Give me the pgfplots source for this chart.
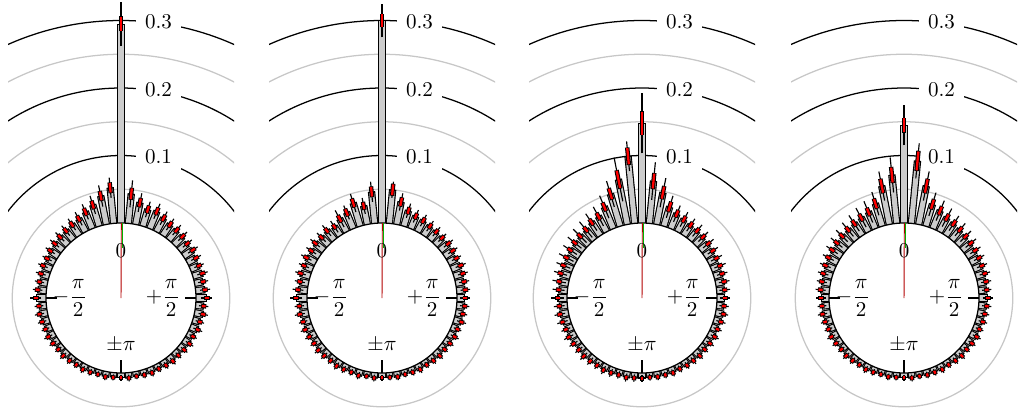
\documentclass[border=0pt]{standalone}
\usepackage{pgfplots}
\usepackage{pgfplotstable}
\pgfplotsset{compat=1.18}

% k = bin index (bin centre at k*5.625 deg, clockwise from top), v = value, b = box half-width, w = whisker half-width
\pgfplotstableread{
k v b w
-31 0.007 0.0022 0.0045
-30 0.008 0.0024 0.0050
-29 0.007 0.0022 0.0045
-28 0.008 0.0024 0.0050
-27 0.009 0.0025 0.0055
-26 0.008 0.0024 0.0050
-25 0.009 0.0025 0.0055
-24 0.010 0.0026 0.0060
-23 0.009 0.0025 0.0055
-22 0.010 0.0026 0.0060
-21 0.011 0.0027 0.0065
-20 0.010 0.0026 0.0060
-19 0.011 0.0027 0.0065
-18 0.012 0.0028 0.0070
-17 0.011 0.0027 0.0065
-16 0.015 0.0032 0.0080
-15 0.013 0.0030 0.0070
-14 0.012 0.0028 0.0070
-13 0.013 0.0030 0.0075
-12 0.014 0.0030 0.0075
-11 0.013 0.0030 0.0075
-10 0.015 0.0032 0.0080
-9 0.016 0.0033 0.0085
-8 0.017 0.0035 0.0090
-7 0.018 0.0036 0.0095
-6 0.020 0.0040 0.0100
-5 0.022 0.0042 0.0110
-4 0.027 0.0050 0.0120
-3 0.033 0.0055 0.0140
-2 0.043 0.0065 0.0160
-1 0.053 0.0070 0.0150
0 0.295 0.0100 0.0330
1 0.044 0.0080 0.0200
2 0.033 0.0060 0.0140
3 0.026 0.0050 0.0120
4 0.028 0.0050 0.0120
5 0.023 0.0045 0.0110
6 0.020 0.0040 0.0100
7 0.019 0.0038 0.0095
8 0.018 0.0036 0.0090
9 0.016 0.0033 0.0085
10 0.017 0.0035 0.0085
11 0.015 0.0032 0.0080
12 0.014 0.0030 0.0075
13 0.015 0.0032 0.0080
14 0.013 0.0030 0.0075
15 0.014 0.0030 0.0075
16 0.016 0.0033 0.0080
17 0.012 0.0028 0.0070
18 0.013 0.0030 0.0070
19 0.011 0.0027 0.0065
20 0.012 0.0028 0.0070
21 0.010 0.0026 0.0060
22 0.011 0.0027 0.0065
23 0.010 0.0026 0.0060
24 0.009 0.0025 0.0055
25 0.010 0.0026 0.0060
26 0.009 0.0025 0.0055
27 0.008 0.0024 0.0050
28 0.009 0.0025 0.0055
29 0.008 0.0024 0.0050
30 0.007 0.0022 0.0045
31 0.008 0.0024 0.0050
32 0.007 0.0022 0.0045
}\tabA

\pgfplotstableread{
k v b w
-31 0.008 0.0024 0.0050
-30 0.007 0.0022 0.0045
-29 0.009 0.0025 0.0055
-28 0.008 0.0024 0.0050
-27 0.009 0.0025 0.0055
-26 0.010 0.0026 0.0060
-25 0.009 0.0025 0.0055
-24 0.010 0.0026 0.0060
-23 0.011 0.0027 0.0065
-22 0.010 0.0026 0.0060
-21 0.011 0.0027 0.0065
-20 0.012 0.0028 0.0070
-19 0.011 0.0027 0.0065
-18 0.013 0.0030 0.0075
-17 0.012 0.0028 0.0070
-16 0.016 0.0033 0.0090
-15 0.014 0.0030 0.0080
-14 0.013 0.0030 0.0075
-13 0.015 0.0032 0.0080
-12 0.014 0.0030 0.0080
-11 0.016 0.0033 0.0085
-10 0.015 0.0032 0.0085
-9 0.017 0.0035 0.0090
-8 0.016 0.0033 0.0090
-7 0.018 0.0036 0.0100
-6 0.016 0.0033 0.0100
-5 0.022 0.0050 0.0140
-4 0.026 0.0050 0.0110
-3 0.036 0.0060 0.0140
-2 0.028 0.0050 0.0120
-1 0.047 0.0070 0.0150
0 0.300 0.0090 0.0250
1 0.050 0.0080 0.0120
2 0.034 0.0060 0.0130
3 0.024 0.0045 0.0110
4 0.020 0.0040 0.0100
5 0.019 0.0038 0.0095
6 0.017 0.0035 0.0090
7 0.016 0.0033 0.0085
8 0.015 0.0032 0.0080
9 0.016 0.0033 0.0085
10 0.015 0.0032 0.0080
11 0.014 0.0030 0.0075
12 0.015 0.0032 0.0080
13 0.014 0.0030 0.0075
14 0.013 0.0030 0.0075
15 0.013 0.0030 0.0070
16 0.012 0.0028 0.0070
17 0.012 0.0028 0.0070
18 0.011 0.0027 0.0065
19 0.012 0.0028 0.0070
20 0.010 0.0026 0.0060
21 0.011 0.0027 0.0065
22 0.010 0.0026 0.0060
23 0.009 0.0025 0.0055
24 0.010 0.0026 0.0060
25 0.009 0.0025 0.0055
26 0.008 0.0024 0.0050
27 0.009 0.0025 0.0055
28 0.008 0.0024 0.0050
29 0.007 0.0022 0.0045
30 0.008 0.0024 0.0050
31 0.007 0.0022 0.0045
32 0.007 0.0022 0.0045
}\tabB

\pgfplotstableread{
k v b w
-31 0.008 0.0024 0.0055
-30 0.009 0.0025 0.0060
-29 0.008 0.0024 0.0055
-28 0.009 0.0025 0.0060
-27 0.010 0.0026 0.0065
-26 0.009 0.0025 0.0060
-25 0.010 0.0026 0.0065
-24 0.011 0.0027 0.0070
-23 0.010 0.0026 0.0065
-22 0.011 0.0027 0.0070
-21 0.012 0.0028 0.0075
-20 0.011 0.0027 0.0070
-19 0.012 0.0028 0.0080
-18 0.013 0.0030 0.0080
-17 0.012 0.0028 0.0080
-16 0.014 0.0030 0.0090
-15 0.013 0.0030 0.0090
-14 0.014 0.0030 0.0100
-13 0.015 0.0032 0.0100
-12 0.015 0.0032 0.0110
-11 0.016 0.0033 0.0120
-10 0.017 0.0035 0.0120
-9 0.018 0.0036 0.0130
-8 0.019 0.0038 0.0140
-7 0.020 0.0040 0.0150
-6 0.024 0.0045 0.0150
-5 0.026 0.0050 0.0160
-4 0.035 0.0060 0.0180
-3 0.050 0.0080 0.0200
-2 0.068 0.0130 0.0330
-1 0.100 0.0120 0.0220
0 0.148 0.0170 0.0450
1 0.063 0.0110 0.0280
2 0.048 0.0090 0.0220
3 0.030 0.0070 0.0170
4 0.024 0.0050 0.0130
5 0.021 0.0045 0.0120
6 0.019 0.0040 0.0110
7 0.018 0.0036 0.0110
8 0.017 0.0035 0.0100
9 0.016 0.0033 0.0100
10 0.015 0.0032 0.0090
11 0.014 0.0030 0.0090
12 0.014 0.0030 0.0090
13 0.013 0.0030 0.0080
14 0.013 0.0030 0.0080
15 0.012 0.0028 0.0080
16 0.012 0.0028 0.0075
17 0.011 0.0027 0.0070
18 0.012 0.0028 0.0070
19 0.011 0.0027 0.0070
20 0.010 0.0026 0.0065
21 0.011 0.0027 0.0065
22 0.010 0.0026 0.0065
23 0.009 0.0025 0.0060
24 0.010 0.0026 0.0060
25 0.009 0.0025 0.0060
26 0.009 0.0025 0.0055
27 0.008 0.0024 0.0055
28 0.009 0.0025 0.0055
29 0.008 0.0024 0.0050
30 0.008 0.0024 0.0050
31 0.007 0.0022 0.0050
32 0.008 0.0024 0.0050
}\tabC

\pgfplotstableread{
k v b w
-31 0.007 0.0022 0.0045
-30 0.008 0.0024 0.0050
-29 0.007 0.0022 0.0045
-28 0.008 0.0024 0.0050
-27 0.009 0.0025 0.0055
-26 0.008 0.0024 0.0050
-25 0.009 0.0025 0.0055
-24 0.010 0.0026 0.0060
-23 0.009 0.0025 0.0055
-22 0.010 0.0026 0.0060
-21 0.011 0.0027 0.0065
-20 0.010 0.0026 0.0060
-19 0.011 0.0027 0.0065
-18 0.012 0.0028 0.0070
-17 0.011 0.0027 0.0065
-16 0.012 0.0028 0.0070
-15 0.013 0.0030 0.0075
-14 0.013 0.0030 0.0075
-13 0.014 0.0030 0.0080
-12 0.015 0.0032 0.0085
-11 0.016 0.0033 0.0090
-10 0.017 0.0035 0.0100
-9 0.018 0.0036 0.0110
-8 0.019 0.0038 0.0120
-7 0.020 0.0040 0.0130
-6 0.022 0.0045 0.0140
-5 0.024 0.0050 0.0160
-4 0.027 0.0055 0.0170
-3 0.035 0.0070 0.0180
-2 0.058 0.0100 0.0220
-1 0.072 0.0110 0.0260
0 0.145 0.0100 0.0300
1 0.093 0.0140 0.0260
2 0.058 0.0100 0.0220
3 0.034 0.0070 0.0180
4 0.029 0.0060 0.0160
5 0.024 0.0050 0.0150
6 0.022 0.0045 0.0130
7 0.020 0.0040 0.0120
8 0.018 0.0036 0.0110
9 0.017 0.0035 0.0100
10 0.016 0.0033 0.0090
11 0.015 0.0032 0.0085
12 0.014 0.0030 0.0080
13 0.014 0.0030 0.0080
14 0.013 0.0030 0.0075
15 0.012 0.0028 0.0070
16 0.013 0.0030 0.0075
17 0.012 0.0028 0.0070
18 0.011 0.0027 0.0065
19 0.011 0.0027 0.0065
20 0.010 0.0026 0.0060
21 0.011 0.0027 0.0065
22 0.010 0.0026 0.0060
23 0.009 0.0025 0.0055
24 0.010 0.0026 0.0060
25 0.009 0.0025 0.0055
26 0.008 0.0024 0.0050
27 0.009 0.0025 0.0055
28 0.008 0.0024 0.0050
29 0.008 0.0024 0.0050
30 0.007 0.0022 0.0045
31 0.008 0.0024 0.0050
32 0.007 0.0022 0.0045
}\tabD

\newcommand{\Sn}{sin(5.625*\thisrow{k})}
\newcommand{\Cs}{cos(5.625*\thisrow{k})}

\pgfplotsset{
  rose/.style={x=0.475pt, y=0.475pt, xmin=-113, xmax=113, ymin=-113, ymax=298,
    hide axis, clip=true, anchor=south west},
}

\newcommand{\rosepanel}[2]{%
\begin{axis}[rose, at={(#2,0pt)}]
 % scale circles (radii 75 + 675*value, in axis units of 0.475pt)
 \draw[black!22, line width=0.6pt] (axis cs:0,0) circle[radius=108.75];
 \draw[black!22, line width=0.6pt] (axis cs:0,0) circle[radius=176.25];
 \draw[black!22, line width=0.6pt] (axis cs:0,0) circle[radius=243.75];
 \draw[black, line width=0.6pt] (axis cs:142.5,0) arc[start angle=0, end angle=180, radius=67.6875pt];
 \draw[black, line width=0.6pt] (axis cs:210,0) arc[start angle=0, end angle=180, radius=99.75pt];
 \draw[black, line width=0.6pt] (axis cs:277.5,0) arc[start angle=0, end angle=180, radius=131.8125pt];
 \node[fill=white, inner xsep=4.3pt, inner ysep=4pt] at (axis cs:37.5,141) {$0.1$};
 \node[fill=white, inner xsep=4.3pt, inner ysep=4pt] at (axis cs:37.5,208.5) {$0.2$};
 \node[fill=white, inner xsep=4.3pt, inner ysep=4pt] at (axis cs:37.5,276) {$0.3$};
 % bars
 \addplot[black, line width=3.5pt, mark=none,
   quiver={u={(675*\thisrow{v}+0.3)*\Sn}, v={(675*\thisrow{v}+0.3)*\Cs}}]
   table[x expr={75*\Sn}, y expr={75*\Cs}] {#1};
 \addplot[black!20, line width=2.4pt, mark=none,
   quiver={u={(675*\thisrow{v}-1)*\Sn}, v={(675*\thisrow{v}-1)*\Cs}}]
   table[x expr={75*\Sn}, y expr={75*\Cs}] {#1};
 % whiskers
 \addplot[black, line width=0.55pt, mark=none,
   quiver={u={1350*\thisrow{w}*\Sn}, v={1350*\thisrow{w}*\Cs}}]
   table[x expr={(75+675*(\thisrow{v}-\thisrow{w}))*\Sn}, y expr={(75+675*(\thisrow{v}-\thisrow{w}))*\Cs}] {#1};
 % boxes
 \addplot[black, line width=2.1pt, mark=none,
   quiver={u={(1350*\thisrow{b}+1.4)*\Sn}, v={(1350*\thisrow{b}+1.4)*\Cs}}]
   table[x expr={(74.3+675*(\thisrow{v}-\thisrow{b}))*\Sn}, y expr={(74.3+675*(\thisrow{v}-\thisrow{b}))*\Cs}] {#1};
 \addplot[red, line width=1.1pt, mark=none,
   quiver={u={1350*\thisrow{b}*\Sn}, v={1350*\thisrow{b}*\Cs}}]
   table[x expr={(75+675*(\thisrow{v}-\thisrow{b}))*\Sn}, y expr={(75+675*(\thisrow{v}-\thisrow{b}))*\Cs}] {#1};
 % base circle and ticks
 \draw[black, line width=0.6pt] (axis cs:0,0) circle[radius=75];
 \draw[black, line width=0.5pt] (axis cs:64,0) -- (axis cs:75,0);
 \draw[black, line width=0.5pt] (axis cs:-64,0) -- (axis cs:-75,0);
 \draw[black, line width=0.5pt] (axis cs:0,-62) -- (axis cs:0,-75);
 % mean direction
 \draw[green!70!black, line width=0.4pt] (axis cs:1.8,50) -- (axis cs:1.8,75);
 \draw[red!70!black, line width=0.45pt] (axis cs:0,0) -- (axis cs:0.3,75);
 % direction labels
 \node at (axis cs:0,47) {$0$};
 \node at (axis cs:0,-47) {$\pm\pi$};
 \node at (axis cs:-51,0) {$\displaystyle -\frac{\pi}{2}$};
 \node at (axis cs:42,0) {$\displaystyle +\frac{\pi}{2}$};
\end{axis}}

\begin{document}
\begin{tikzpicture}
\useasboundingbox (0,0) rectangle (486.4pt,195.225pt);
\rosepanel{\tabA}{3.8pt}
\rosepanel{\tabB}{127.775pt}
\rosepanel{\tabC}{251.275pt}
\rosepanel{\tabD}{375.725pt}
\end{tikzpicture}
\end{document}
